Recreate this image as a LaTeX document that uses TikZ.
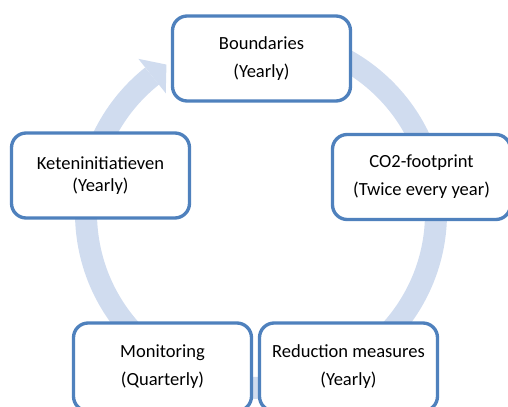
\documentclass[tikz,border=0pt]{standalone}
\usepackage{fontspec}
\setmainfont{Carlito}
\usetikzlibrary{positioning}
\definecolor{boxblue}{RGB}{79,129,189}
\definecolor{ringblue}{RGB}{208,220,239}
\begin{document}
\begin{tikzpicture}[x=0.75pt,y=0.75pt,
  stage/.style={draw=boxblue, line width=2.5pt, fill=white, rounded corners=11pt,
    minimum width=133.5pt, minimum height=63.75pt, align=center,
    font=\fontsize{13.9}{21}\selectfont}]
\useasboundingbox (0,0) rectangle (508,407);
\clip (0,0) rectangle (508,407);
% cycle arrow behind the boxes
\draw[ringblue, line width=16.5pt, shift={(261,194)}] (95:175) arc (95:-231.5:175);
\fill[ringblue, shift={(261,194)}] (128.5:153) -- (128.5:197) -- (122.5:176) -- cycle;
% the five stages
\node[stage] (bound) at (261.5,348.5) {Boundaries\\(Yearly)};
\node[stage] (co2) at (421.5,230) {CO2-footprint\\(Twice every year)};
\node[stage, minimum height=66pt] (reduc) at (348.5,40) {Reduction measures\\(Yearly)};
\node[stage, minimum height=66pt] (monit) at (162.5,40) {Monitoring\\(Quarterly)};
\node[stage, font=\fontsize{13.9}{16.5}\selectfont] (keten) at (100.5,231.5) {Keteninitiatieven\\(Yearly)};
\end{tikzpicture}
\end{document}
